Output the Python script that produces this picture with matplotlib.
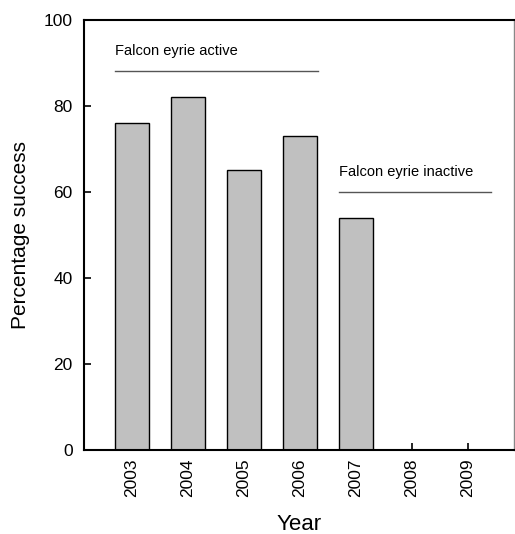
import matplotlib
matplotlib.use('Agg')
import matplotlib.pyplot as plt
import numpy as np

plt.rcParams['font.family'] = ['Liberation Sans', 'DejaVu Sans']

# Data
years = ['2003', '2004', '2005', '2006', '2007', '2008', '2009']
success = [76, 82, 65, 73, 54, 0, 0]

# Annotation spans (x in bar index units, y in percent)
active_label = 'Falcon eyrie active'
active_span = (-0.30, 3.32)
active_y = 88
inactive_label = 'Falcon eyrie inactive'
inactive_span = (3.70, 6.41)
inactive_y = 60

fig = plt.figure(figsize=(5.15, 5.34), dpi=100)
ax = fig.add_axes([0.163, 0.157, 0.835, 0.806])

x = np.arange(len(years))
ax.bar(x, success, width=0.61, color='#c0c0c0', edgecolor='black', linewidth=1.0, zorder=2)

# Period lines and labels
ax.plot(active_span, [active_y, active_y], color='#555555', linewidth=1.0)
ax.text(active_span[0], active_y + 3, active_label, fontsize=10.5, ha='left', va='bottom')
ax.plot(inactive_span, [inactive_y, inactive_y], color='#555555', linewidth=1.0)
ax.text(inactive_span[0], inactive_y + 3, inactive_label, fontsize=10.5, ha='left', va='bottom')

ax.set_xlim(-0.86, 6.82)
ax.set_ylim(0, 100)
ax.set_xticks(x)
ax.set_xticklabels(years, rotation=90, fontsize=12.5)
ax.set_yticks([0, 20, 40, 60, 80, 100])
ax.tick_params(axis='y', direction='in', labelsize=12.5, length=5, width=1.2, pad=8)
ax.tick_params(axis='x', direction='in', length=5, width=1.2, pad=6)

ax.spines['left'].set_linewidth(1.5)
ax.spines['bottom'].set_linewidth(1.5)
ax.spines['top'].set_linewidth(1.5)
ax.spines['right'].set_linewidth(1.0)
ax.spines['right'].set_color('#888888')

ax.set_xlabel('Year', fontsize=16, labelpad=12)
ax.set_ylabel('Percentage success', fontsize=15, labelpad=10)

fig.savefig('out.png', dpi=100)
